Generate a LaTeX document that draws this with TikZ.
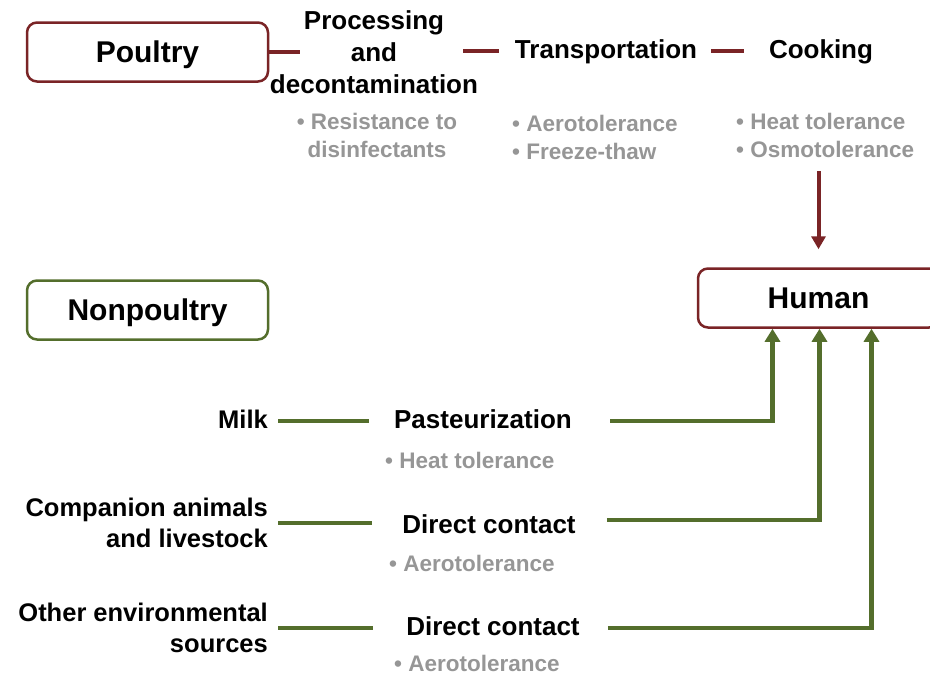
\documentclass[tikz,border=0pt]{standalone}
\usepackage{fontspec}
\setmainfont{Liberation Sans}
\usetikzlibrary{arrows.meta}
\definecolor{poultryred}{RGB}{122,36,38}
\definecolor{grassgreen}{RGB}{84,110,44}
\definecolor{traitgray}{RGB}{150,150,150}

\begin{document}
\begin{tikzpicture}[x=1pt,y=-1pt,
	hostbox/.style={draw, line width=2.5pt, rounded corners=10pt, minimum width=241pt, minimum height=59pt, text height=22pt, text depth=1pt, font=\fontsize{30}{36}\selectfont\bfseries},
	stage/.style={font=\fontsize{26}{32}\selectfont\bfseries, inner sep=0pt, align=center, text height=19pt, text depth=5pt},
	trait/.style={font=\fontsize{22.5}{28}\selectfont\bfseries, text=traitgray, inner sep=0pt, align=left},
	source/.style={font=\fontsize{25.5}{31}\selectfont\bfseries, inner sep=0pt, align=right, anchor=east},
	redline/.style={poultryred, line width=4.5pt},
	greenline/.style={grassgreen, line width=4.5pt},
	greenarrow/.style={greenline, -{Triangle[width=15pt,length=13pt]}},
	redarrow/.style={poultryred, line width=4pt, -{Triangle[width=14pt,length=13pt]}}]
	\useasboundingbox (0,0) rectangle (930,675);
	% poultry route
	\node[hostbox, draw=poultryred] (poultry) at (147.5,52) {Poultry};
	\node[stage, text height=, text depth=] (proc) at (374,52) {Processing\\and\\decontamination};
	\node[stage] (trans) at (606,51) {Transportation};
	\node[stage] (cook) at (821,51) {Cooking};
	\node[trait, align=center] (procT) at (377,135) {\textbullet{} Resistance to\\disinfectants};
	\node[trait, anchor=west] (transT) at (512,137) {\textbullet{} Aerotolerance\\\textbullet{} Freeze-thaw};
	\node[trait, anchor=west] (cookT) at (736,135) {\textbullet{} Heat tolerance\\\textbullet{} Osmotolerance};
	\draw[redline] (poultry.east) -- ([xshift=30pt]proc.west |- poultry.east);
	\draw[redline] ([xshift=-15pt]proc.east |- trans.west) -- ([xshift=-16pt]trans.west);
	\draw[redline] ([xshift=14pt]trans.east) -- ([xshift=-25pt]cook.west);
	% human
	\node[hostbox, draw=poultryred] (human) at (818.5,298) {Human};
	\draw[redarrow, shorten <=14pt, shorten >=18pt] (cookT.south -| human.north) -- (human.north);
	% nonpoultry route
	\node[hostbox, draw=grassgreen] (nonpoultry) at (147.5,310) {Nonpoultry};
	\node[source, text height=19pt, text depth=5pt] (milk) at (268,421) {Milk};
	\node[source] (companion) at (268,523) {Companion animals\\and livestock};
	\node[source] (other) at (268,628) {Other environmental\\sources};
	\node[stage] (pasteur) at (483,421) {Pasteurization};
	\node[stage] (contactA) at (489,526) {Direct contact};
	\node[stage] (contactB) at (493,628) {Direct contact};
	\node[trait, anchor=west] (pasteurT) at (385,460) {\textbullet{} Heat tolerance};
	\node[trait, anchor=west] (contactAT) at (389,563) {\textbullet{} Aerotolerance};
	\node[trait, anchor=west] (contactBT) at (394,663) {\textbullet{} Aerotolerance};
	\draw[greenline] ([xshift=10pt]milk.east) -- ([xshift=-25pt]pasteur.west |- milk.east);
	\draw[greenline] ([xshift=10pt]companion.east) -- ([xshift=-30pt]contactA.west |- companion.east);
	\draw[greenline] ([xshift=10pt]other.east) -- ([xshift=-33pt]contactB.west |- other.east);
	\draw[greenarrow] ([xshift=38pt]pasteur.east) -| ([xshift=-46pt]human.south);
	\draw[greenarrow] ([xshift=31pt]contactA.east |- 0,520) -| ([xshift=1pt]human.south);
	\draw[greenarrow] ([xshift=28pt]contactB.east) -| ([xshift=53pt]human.south);
\end{tikzpicture}
\end{document}
